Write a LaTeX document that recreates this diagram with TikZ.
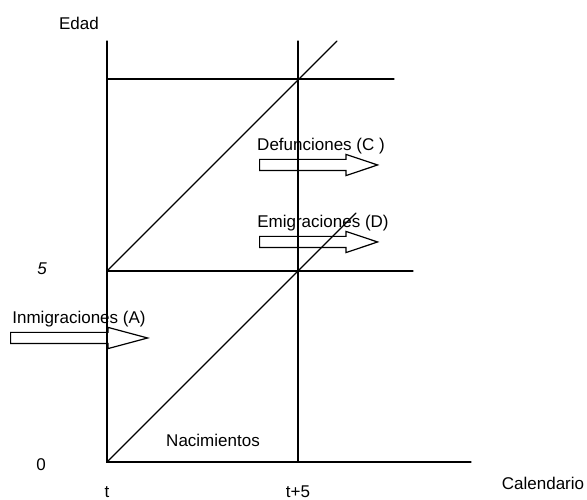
\documentclass[tikz,border=0pt]{standalone}
\usepackage{fontspec}
\setmainfont{Liberation Sans}
\usetikzlibrary{positioning, shapes.arrows}

\begin{document}
\begin{tikzpicture}[
      x=1pt, y=1pt,
      every node/.style = {font=\fontsize{17}{20}\selectfont, inner sep=0pt},
      eje/.style        = {line width=1.3pt, line cap=round},
      flecha/.style     = {single arrow, draw, line width=1.2pt,
                           inner sep=5pt, single arrow head extend=5pt,
                           anchor=tail},
      rotulo/.style     = {anchor=center},
    ]
    \useasboundingbox (0,0) rectangle (587,500);

    % Lexis grid corners
    \coordinate (o)     at (107,38);
    \coordinate (otop)  at (107,459);
    \coordinate (f)     at (298,38);
    \coordinate (ftop)  at (298,459);
    \coordinate (eje)   at (471,38);
    \coordinate (c5)    at (107,229);
    \coordinate (c5end) at (413,229);
    \coordinate (c10)   at (107,421);
    \coordinate (c10end) at (394,421);
    \coordinate (d1)    at (356,287);
    \coordinate (d2)    at (337,459);

    % Axes and grid
    \draw[eje] (otop) -- (o) -- (eje);
    \draw[eje] (f) -- (ftop);
    \draw[eje] (c5) -- (c5end);
    \draw[eje] (c10) -- (c10end);

    % Cohort lines
    \draw[eje] (o) -- (d1);
    \draw[eje] (c5) -- (d2);

    % Axis labels
    \node[rotulo] (edad) at (79,477) {Edad};
    \node[rotulo] (cal)  at (543,17) {Calendario};
    \node[rotulo] (cero) at (41,35) {0};
    \node[rotulo, font=\fontsize{17}{20}\selectfont\itshape] (cinco) at (42,231) {5};
    \node[rotulo] (tt)   at (107,8) {t};
    \node[rotulo] (tt5)  at (298,8) {t+5};

    % Flows
    \node[flecha, minimum height=137pt, single arrow tip angle=30] (inm) at (10,162) {};
    \node[rotulo] (inmlab) at (79,181) {Inmigraciones (A)};
    \node[flecha, minimum height=118pt, single arrow tip angle=37] (def) at (259,335) {};
    \node[rotulo] (deflab) at (321,354) {Defunciones (C )};
    \node[flecha, minimum height=118pt, single arrow tip angle=37] (emi) at (259,258) {};
    \node[rotulo] (emilab) at (323,277) {Emigraciones (D)};

    \node[rotulo] (nac) at (213,60) {Nacimientos};
  \end{tikzpicture}
\end{document}
